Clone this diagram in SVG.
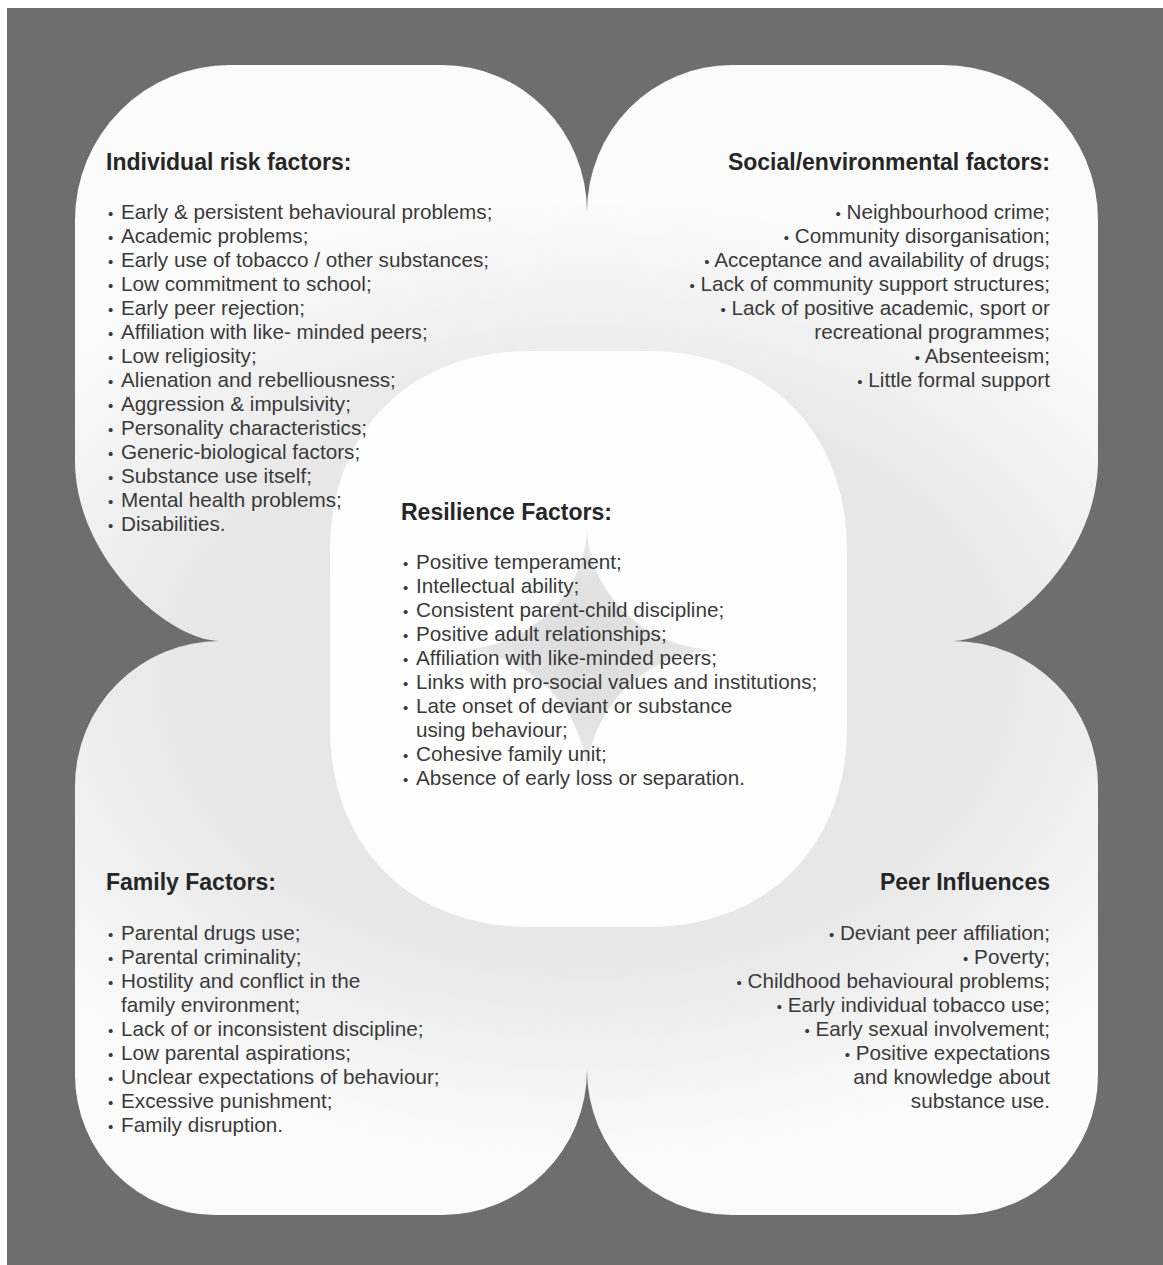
<svg xmlns="http://www.w3.org/2000/svg" width="1163" height="1265" viewBox="0 0 1163 1265">
<defs>
<radialGradient id="lobeGrad" gradientUnits="userSpaceOnUse" cx="587" cy="680" r="480" gradientTransform="translate(587 680) scale(1.45 1) translate(-587 -680)">
<stop offset="0" stop-color="#e4e4e4"/>
<stop offset="0.6" stop-color="#e8e8e8"/>
<stop offset="0.85" stop-color="#f4f4f4"/>
<stop offset="1" stop-color="#fbfbfb"/>
</radialGradient>
<radialGradient id="starGrad" gradientUnits="userSpaceOnUse" cx="587" cy="650" r="135">
<stop offset="0" stop-color="#dcdcdc"/>
<stop offset="0.7" stop-color="#e5e5e5"/>
<stop offset="1" stop-color="#f0f0f0"/>
</radialGradient>
<style>
.body{font-family:"Liberation Sans",Arial,sans-serif;font-size:20.7px;fill:#3a3a3a}
.head{font-family:"Liberation Sans",Arial,sans-serif;font-size:23px;font-weight:700;fill:#262626}
.r{text-anchor:end}
.b{font-size:15px}
</style>
</defs>
<rect x="0" y="0" width="1163" height="1265" fill="#ffffff"/>
<rect x="7" y="8" width="1156" height="1257" fill="#6e6e6e"/>
<g id="clover">
<path fill="url(#lobeGrad)" d="M 230,65 L 442,65 A 145,147 0 0 1 587,212 A 145,147 0 0 1 732,65 L 943,65 A 155,155 0 0 1 1098,220 L 1098,460 C 1098,560 1003,641 953,641 A 145,145 0 0 1 1098,786 L 1098,1075 A 140,140 0 0 1 958,1215 L 732,1215 A 145,145 0 0 1 587,1070 A 145,145 0 0 1 442,1215 L 215,1215 A 140,140 0 0 1 75,1075 L 75,786 A 145,145 0 0 1 220,641 C 170,641 75,560 75,460 L 75,220 A 155,155 0 0 1 230,65 Z"/>
</g>
<g id="centre-shape">
<path fill="#fefefe" d="M 530,351 L 647,351 C 767,351 847,431 847,551 L 847,727 C 847,847 767,927 647,927 L 530,927 C 410,927 330,847 330,727 L 330,551 C 330,431 410,351 530,351 Z"/>
<path fill="url(#starGrad)" d="M 587,525 C 587,594 647,650 720,650 C 647,650 587,708 587,780 C 587,708 527,650 455,650 C 527,650 587,594 587,525 Z"/>
</g>
<g id="connectors"/>
<g id="individual-risk-factors">
<text class="head" x="106" y="170">Individual risk factors:</text>
<text class="body"><tspan class="b" x="108" y="219">•</tspan><tspan x="121" y="219">Early &amp; persistent behavioural problems;</tspan></text>
<text class="body"><tspan class="b" x="108" y="243">•</tspan><tspan x="121" y="243">Academic problems;</tspan></text>
<text class="body"><tspan class="b" x="108" y="267">•</tspan><tspan x="121" y="267">Early use of tobacco / other substances;</tspan></text>
<text class="body"><tspan class="b" x="108" y="291">•</tspan><tspan x="121" y="291">Low commitment to school;</tspan></text>
<text class="body"><tspan class="b" x="108" y="315">•</tspan><tspan x="121" y="315">Early peer rejection;</tspan></text>
<text class="body"><tspan class="b" x="108" y="339">•</tspan><tspan x="121" y="339">Affiliation with like- minded peers;</tspan></text>
<text class="body"><tspan class="b" x="108" y="363">•</tspan><tspan x="121" y="363">Low religiosity;</tspan></text>
<text class="body"><tspan class="b" x="108" y="387">•</tspan><tspan x="121" y="387">Alienation and rebelliousness;</tspan></text>
<text class="body"><tspan class="b" x="108" y="411">•</tspan><tspan x="121" y="411">Aggression &amp; impulsivity;</tspan></text>
<text class="body"><tspan class="b" x="108" y="435">•</tspan><tspan x="121" y="435">Personality characteristics;</tspan></text>
<text class="body"><tspan class="b" x="108" y="459">•</tspan><tspan x="121" y="459">Generic-biological factors;</tspan></text>
<text class="body"><tspan class="b" x="108" y="483">•</tspan><tspan x="121" y="483">Substance use itself;</tspan></text>
<text class="body"><tspan class="b" x="108" y="507">•</tspan><tspan x="121" y="507">Mental health problems;</tspan></text>
<text class="body"><tspan class="b" x="108" y="531">•</tspan><tspan x="121" y="531">Disabilities.</tspan></text>
</g>
<g id="social-environmental-factors">
<text class="head r" x="1050" y="170">Social/environmental factors:</text>
<text class="body r" x="1050" y="219"><tspan class="b">•</tspan> Neighbourhood crime;</text>
<text class="body r" x="1050" y="243"><tspan class="b">•</tspan> Community disorganisation;</text>
<text class="body r" x="1050" y="267"><tspan class="b">•</tspan> Acceptance and availability of drugs;</text>
<text class="body r" x="1050" y="291"><tspan class="b">•</tspan> Lack of community support structures;</text>
<text class="body r" x="1050" y="315"><tspan class="b">•</tspan> Lack of positive academic, sport or</text>
<text class="body r" x="1050" y="339">recreational programmes;</text>
<text class="body r" x="1050" y="363"><tspan class="b">•</tspan> Absenteeism;</text>
<text class="body r" x="1050" y="387"><tspan class="b">•</tspan> Little formal support</text>
</g>
<g id="resilience-factors">
<text class="head" x="401" y="520">Resilience Factors:</text>
<text class="body"><tspan class="b" x="403" y="569">•</tspan><tspan x="416" y="569">Positive temperament;</tspan></text>
<text class="body"><tspan class="b" x="403" y="593">•</tspan><tspan x="416" y="593">Intellectual ability;</tspan></text>
<text class="body"><tspan class="b" x="403" y="617">•</tspan><tspan x="416" y="617">Consistent parent-child discipline;</tspan></text>
<text class="body"><tspan class="b" x="403" y="641">•</tspan><tspan x="416" y="641">Positive adult relationships;</tspan></text>
<text class="body"><tspan class="b" x="403" y="665">•</tspan><tspan x="416" y="665">Affiliation with like-minded peers;</tspan></text>
<text class="body"><tspan class="b" x="403" y="689">•</tspan><tspan x="416" y="689">Links with pro-social values and institutions;</tspan></text>
<text class="body"><tspan class="b" x="403" y="713">•</tspan><tspan x="416" y="713">Late onset of deviant or substance</tspan></text>
<text class="body" x="416" y="737">using behaviour;</text>
<text class="body"><tspan class="b" x="403" y="761">•</tspan><tspan x="416" y="761">Cohesive family unit;</tspan></text>
<text class="body"><tspan class="b" x="403" y="785">•</tspan><tspan x="416" y="785">Absence of early loss or separation.</tspan></text>
</g>
<g id="family-factors">
<text class="head" x="106" y="890">Family Factors:</text>
<text class="body"><tspan class="b" x="108" y="940">•</tspan><tspan x="121" y="940">Parental drugs use;</tspan></text>
<text class="body"><tspan class="b" x="108" y="964">•</tspan><tspan x="121" y="964">Parental criminality;</tspan></text>
<text class="body"><tspan class="b" x="108" y="988">•</tspan><tspan x="121" y="988">Hostility and conflict in the</tspan></text>
<text class="body" x="121" y="1012">family environment;</text>
<text class="body"><tspan class="b" x="108" y="1036">•</tspan><tspan x="121" y="1036">Lack of or inconsistent discipline;</tspan></text>
<text class="body"><tspan class="b" x="108" y="1060">•</tspan><tspan x="121" y="1060">Low parental aspirations;</tspan></text>
<text class="body"><tspan class="b" x="108" y="1084">•</tspan><tspan x="121" y="1084">Unclear expectations of behaviour;</tspan></text>
<text class="body"><tspan class="b" x="108" y="1108">•</tspan><tspan x="121" y="1108">Excessive punishment;</tspan></text>
<text class="body"><tspan class="b" x="108" y="1132">•</tspan><tspan x="121" y="1132">Family disruption.</tspan></text>
</g>
<g id="peer-influences">
<text class="head r" x="1050" y="890">Peer Influences</text>
<text class="body r" x="1050" y="940"><tspan class="b">•</tspan> Deviant peer affiliation;</text>
<text class="body r" x="1050" y="964"><tspan class="b">•</tspan> Poverty;</text>
<text class="body r" x="1050" y="988"><tspan class="b">•</tspan> Childhood behavioural problems;</text>
<text class="body r" x="1050" y="1012"><tspan class="b">•</tspan> Early individual tobacco use;</text>
<text class="body r" x="1050" y="1036"><tspan class="b">•</tspan> Early sexual involvement;</text>
<text class="body r" x="1050" y="1060"><tspan class="b">•</tspan> Positive expectations</text>
<text class="body r" x="1050" y="1084">and knowledge about</text>
<text class="body r" x="1050" y="1108">substance use.</text>
</g>
</svg>
